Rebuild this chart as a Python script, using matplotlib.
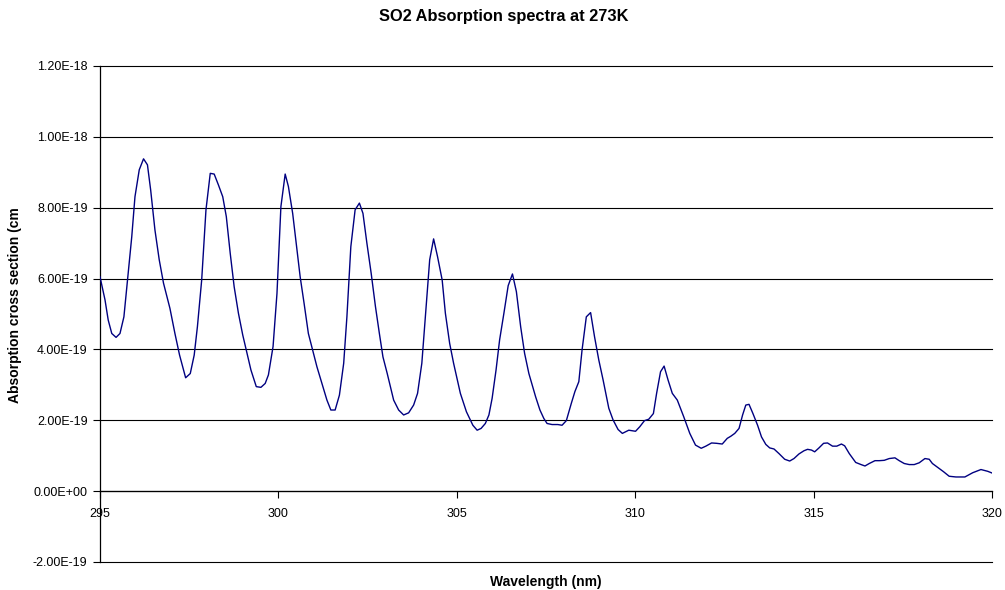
"""
SO2 absorption cross section at 273K, redrawn in the old Excel chart style.
"""

import matplotlib
matplotlib.use("Agg")
import matplotlib.pyplot as plt
from matplotlib.ticker import FuncFormatter


# =====================================================================
# Data (wavelength in nm, sigma in 1e-19 cm^2)
# =====================================================================
wavelength = [
    295.00, 295.14, 295.23, 295.33, 295.45, 295.56, 295.67, 295.77, 295.89, 295.98,
    296.10, 296.22, 296.33, 296.42, 296.54, 296.66, 296.78, 296.96, 297.10, 297.23,
    297.40, 297.53, 297.64, 297.73, 297.85, 297.97, 298.09, 298.20, 298.32, 298.44,
    298.54, 298.65, 298.76, 298.88, 299.00, 299.12, 299.23, 299.38, 299.51, 299.63,
    299.72, 299.85, 299.96, 300.07, 300.19, 300.28, 300.40, 300.50, 300.61, 300.72,
    300.84, 300.97, 301.08, 301.22, 301.36, 301.47, 301.59, 301.71, 301.83, 301.92,
    302.03, 302.15, 302.27, 302.37, 302.48, 302.60, 302.72, 302.83, 302.93, 303.05,
    303.23, 303.37, 303.51, 303.65, 303.79, 303.90, 304.02, 304.14, 304.24, 304.35,
    304.46, 304.59, 304.68, 304.80, 304.91, 305.10, 305.27, 305.45, 305.57, 305.68,
    305.80, 305.90, 305.99, 306.10, 306.20, 306.32, 306.44, 306.56, 306.67, 306.79,
    306.90, 307.02, 307.21, 307.33, 307.44, 307.53, 307.67, 307.83, 307.95, 308.07,
    308.21, 308.31, 308.42, 308.51, 308.63, 308.75, 308.86, 308.98, 309.10, 309.26,
    309.38, 309.52, 309.64, 309.82, 310.01, 310.13, 310.26, 310.38, 310.51, 310.60,
    310.71, 310.81, 310.92, 311.04, 311.18, 311.36, 311.53, 311.69, 311.85, 311.98,
    312.14, 312.28, 312.44, 312.58, 312.68, 312.79, 312.91, 313.01, 313.10, 313.19,
    313.30, 313.43, 313.54, 313.66, 313.77, 313.89, 314.03, 314.19, 314.33, 314.45,
    314.59, 314.73, 314.83, 314.94, 315.03, 315.15, 315.28, 315.39, 315.53, 315.65,
    315.78, 315.87, 316.00, 316.18, 316.33, 316.44, 316.56, 316.72, 316.84, 316.98,
    317.12, 317.28, 317.40, 317.54, 317.68, 317.82, 317.96, 318.12, 318.24, 318.33,
    318.48, 318.64, 318.80, 318.99, 319.24, 319.46, 319.69, 319.88, 320.03,
]

sigma_e19 = [
    6.05, 5.40, 4.83, 4.45, 4.34, 4.45, 4.92, 5.96, 7.18, 8.31,
    9.07, 9.38, 9.21, 8.50, 7.37, 6.53, 5.87, 5.16, 4.45, 3.84,
    3.20, 3.32, 3.84, 4.64, 5.96, 7.94, 8.97, 8.95, 8.64, 8.31,
    7.75, 6.71, 5.77, 5.02, 4.41, 3.89, 3.42, 2.95, 2.93, 3.04,
    3.28, 4.08, 5.58, 8.03, 8.95, 8.60, 7.84, 7.00, 6.05, 5.30,
    4.45, 3.94, 3.51, 3.04, 2.57, 2.29, 2.29, 2.71, 3.61, 4.92,
    6.90, 7.94, 8.13, 7.84, 7.00, 6.15, 5.21, 4.45, 3.79, 3.32,
    2.57, 2.29, 2.15, 2.21, 2.43, 2.76, 3.61, 5.21, 6.53, 7.12,
    6.62, 5.96, 5.02, 4.17, 3.61, 2.76, 2.24, 1.86, 1.72, 1.77,
    1.91, 2.15, 2.62, 3.42, 4.27, 5.02, 5.80, 6.13, 5.63, 4.64,
    3.89, 3.32, 2.66, 2.29, 2.05, 1.91, 1.88, 1.88, 1.86, 1.99,
    2.48, 2.81, 3.09, 3.98, 4.92, 5.04, 4.36, 3.70, 3.14, 2.34,
    2.01, 1.74, 1.63, 1.72, 1.69, 1.82, 1.99, 2.03, 2.19, 2.76,
    3.37, 3.53, 3.14, 2.76, 2.57, 2.10, 1.63, 1.30, 1.21, 1.27,
    1.36, 1.35, 1.33, 1.49, 1.55, 1.63, 1.77, 2.15, 2.43, 2.45,
    2.19, 1.86, 1.53, 1.32, 1.22, 1.19, 1.06, 0.90, 0.85, 0.92,
    1.05, 1.14, 1.18, 1.16, 1.11, 1.22, 1.35, 1.36, 1.27, 1.27,
    1.33, 1.28, 1.06, 0.81, 0.75, 0.71, 0.78, 0.86, 0.86, 0.87,
    0.92, 0.94, 0.86, 0.78, 0.75, 0.75, 0.80, 0.92, 0.90, 0.78,
    0.67, 0.55, 0.42, 0.40, 0.40, 0.52, 0.61, 0.56, 0.50,
]

sigma = [v * 1e-19 for v in sigma_e19]

x_ticks = [295, 300, 305, 310, 315, 320]
y_ticks = [-2e-19, 0.0, 2e-19, 4e-19, 6e-19, 8e-19, 1.0e-18, 1.2e-18]

title = "SO2 Absorption spectra at 273K"
x_label = "Wavelength (nm)"
y_label = "Absorption cross section (cm"


# =====================================================================
# Figure
# =====================================================================
plt.rcParams["font.family"] = ["Liberation Sans", "DejaVu Sans"]

W, H = 1005, 590
fig = plt.figure(figsize=(W / 100, H / 100), dpi=100)
ax = fig.add_axes([100 / W, (H - 562) / H, 892 / W, 496 / H])

ax.plot(wavelength, sigma, color="#000080", linewidth=1.0, zorder=3)

ax.set_xlim(295, 320)
ax.set_ylim(-2e-19, 1.2e-18)
ax.set_xticks(x_ticks)
ax.set_yticks(y_ticks)
ax.yaxis.set_major_formatter(FuncFormatter(lambda v, p: f"{v:.2E}"))

ax.grid(axis="y", color="black", linewidth=0.8, zorder=1)
ax.set_axisbelow(True)
for gl in ax.yaxis.get_gridlines():
    gl.set_clip_on(False)

for side in ("top", "right"):
    ax.spines[side].set_visible(False)
ax.spines["bottom"].set_position(("data", 0))
ax.spines["left"].set_linewidth(0.9)
ax.spines["bottom"].set_linewidth(0.9)

ax.tick_params(axis="y", direction="out", length=5, width=0.8, pad=4, labelsize=9)
ax.tick_params(axis="x", direction="out", length=5, width=0.8, pad=7, labelsize=9)

fig.text(0.5 * 1008 / W, 1 - 17 / H, title, ha="center", va="center",
         fontsize=11.8, fontweight="bold")
fig.text(546 / W, 1 - 582 / H, x_label, ha="center", va="center",
         fontsize=10, fontweight="bold")
fig.text(15 / W, 1 - 403 / H, y_label, ha="center", va="bottom",
         rotation=90, fontsize=10, fontweight="bold")

fig.savefig("out.png", dpi=100)
